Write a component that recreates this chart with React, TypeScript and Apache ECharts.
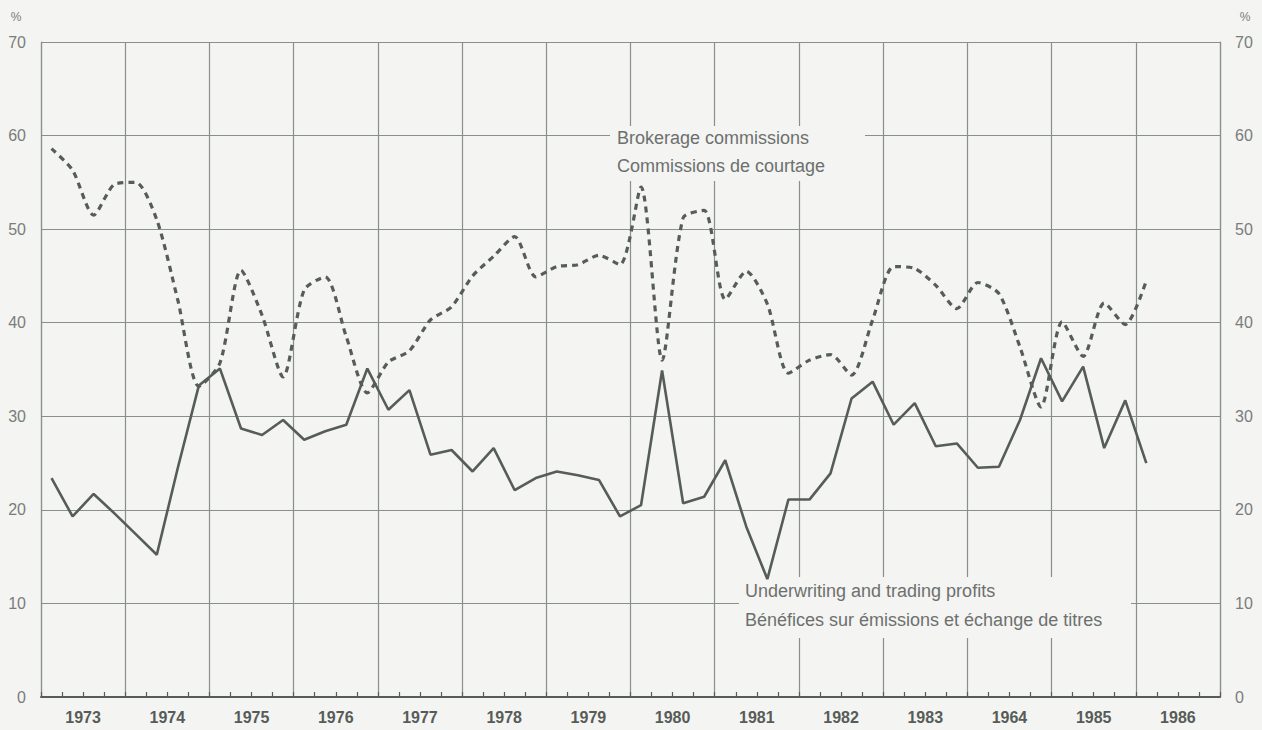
import React, { useEffect, useRef } from "react";
import * as echarts from "echarts";

// Year labels along the bottom (the original prints "1964" for 1984)
const years = ["1973", "1974", "1975", "1976", "1977", "1978", "1979", "1980", "1981", "1982", "1983", "1964", "1985", "1986"];

// Quarterly values, 1973 Q1 .. 1986 Q1 (percent)
const underwriting = [
  23.4, 19.3, 21.7, 19.6, 17.4, 15.2, 24.5, 33.3,
  35.1, 28.7, 28.0, 29.6, 27.5, 28.4, 29.1, 35.1,
  30.7, 32.8, 25.9, 26.4, 24.1, 26.6, 22.1, 23.4,
  24.1, 23.7, 23.2, 19.3, 20.5, 34.9, 20.7, 21.4,
  25.3, 18.2, 12.6, 21.1, 21.1, 23.9, 31.9, 33.7,
  29.1, 31.4, 26.8, 27.1, 24.5, 24.6, 29.6, 36.2,
  31.6, 35.3, 26.6, 31.7, 25.0,
];

const brokerage = [
  58.6, 56.3, 51.5, 54.8, 55.0, 51.0, 42.4, 33.2,
  35.7, 45.6, 40.8, 34.2, 43.5, 44.9, 38.5, 32.5,
  35.8, 37.0, 40.3, 41.7, 45.0, 47.1, 49.2, 44.9,
  46.0, 46.2, 47.2, 46.2, 54.5, 36.0, 51.2, 52.0,
  42.5, 45.5, 42.0, 34.6, 36.0, 36.6, 34.4, 40.3,
  46.0, 45.8, 44.0, 41.5, 44.3, 43.1, 37.4, 31.0,
  40.1, 36.4, 42.1, 39.8, 44.5,
];

const labelBrokerage = ["Brokerage commissions", "Commissions de courtage"];
const labelUnderwriting = ["Underwriting and trading profits", "Bénéfices sur émissions et échange de titres"];

const FONT = '"Liberation Sans", Arial, Helvetica, sans-serif';
const BG = "#f4f4f2";
const GRID = "#879089";
const INK = "#565d59";
const TEXT = "#6c706e";

export default function App() {
  const ref = useRef<HTMLDivElement>(null);

  useEffect(() => {
    if (!ref.current) return;
    const chart = echarts.init(ref.current, undefined, { renderer: "svg" });
    const toPoints = (arr: number[]) => arr.map((v, i) => [i + 0.5, v]);

    const yAxisCommon = {
      type: "value",
      min: 0,
      max: 70,
      interval: 10,
      axisLine: { show: true, lineStyle: { color: GRID, width: 1.2 } },
      axisTick: { show: false },
      axisLabel: { margin: 15, fontSize: 16, color: "#7a7d7b", fontFamily: FONT },
    };

    chart.setOption({
      animation: false,
      backgroundColor: BG,
      grid: { left: 41, right: 42, top: 42, bottom: 33, containLabel: false },
      xAxis: [
        {
          type: "value",
          min: 0,
          max: 56,
          interval: 4,
          axisLabel: { show: false },
          axisLine: { show: true, onZero: false, lineStyle: { color: INK, width: 2 } },
          axisTick: { show: true, inside: true, length: 5, lineStyle: { color: INK, width: 1.2 } },
          minorTick: { show: true, splitNumber: 4, length: 5, lineStyle: { color: INK, width: 1.2 } },
          splitLine: { show: true, lineStyle: { color: GRID, width: 1.2 } },
        },
        {
          type: "category",
          data: years,
          boundaryGap: true,
          position: "bottom",
          axisLine: { show: false },
          axisTick: { show: false },
          splitLine: { show: false },
          axisLabel: { margin: 12, fontSize: 16, fontWeight: "bold", color: "#575c59", fontFamily: FONT },
        },
      ],
      yAxis: [
        { ...yAxisCommon, position: "left", splitLine: { show: true, lineStyle: { color: GRID, width: 1.2 } } },
        { ...yAxisCommon, position: "right", splitLine: { show: false } },
      ],
      series: [
        {
          name: labelUnderwriting[0],
          type: "line",
          xAxisIndex: 0,
          yAxisIndex: 0,
          data: toPoints(underwriting),
          showSymbol: false,
          symbol: "none",
          smooth: false,
          lineStyle: { color: INK, width: 2.6 },
          z: 4,
        },
        {
          name: labelBrokerage[0],
          type: "line",
          xAxisIndex: 0,
          yAxisIndex: 0,
          data: toPoints(brokerage),
          showSymbol: false,
          symbol: "none",
          smooth: 0.25,
          lineStyle: { color: INK, width: 3.2, type: [6, 5] },
          z: 4,
        },
      ],
      graphic: [
        { type: "rect", z: 1, shape: { x: 610, y: 126, width: 255, height: 55 }, style: { fill: BG } },
        { type: "rect", z: 1, shape: { x: 739, y: 577, width: 392, height: 61 }, style: { fill: BG } },
        { type: "text", z: 5, style: { text: labelBrokerage[0], x: 617, y: 138, fill: TEXT, font: `18px ${FONT}`, verticalAlign: "middle" } },
        { type: "text", z: 5, style: { text: labelBrokerage[1], x: 617, y: 166, fill: TEXT, font: `18px ${FONT}`, verticalAlign: "middle" } },
        { type: "text", z: 5, style: { text: labelUnderwriting[0], x: 745, y: 591, fill: TEXT, font: `18px ${FONT}`, verticalAlign: "middle" } },
        { type: "text", z: 5, style: { text: labelUnderwriting[1], x: 745, y: 620, fill: TEXT, font: `18px ${FONT}`, verticalAlign: "middle" } },
        { type: "text", z: 5, style: { text: "%", x: 16, y: 17, fill: "#7a7d7b", font: `12px ${FONT}`, align: "center", verticalAlign: "middle" } },
        { type: "text", z: 5, style: { text: "%", x: 1245, y: 17, fill: "#7a7d7b", font: `12px ${FONT}`, align: "center", verticalAlign: "middle" } },
      ],
    });

    return () => chart.dispose();
  }, []);

  return (
    <div
      ref={ref}
      style={{ position: "fixed", left: 0, top: 0, width: 1262, height: 730 }}
    />
  );
}
